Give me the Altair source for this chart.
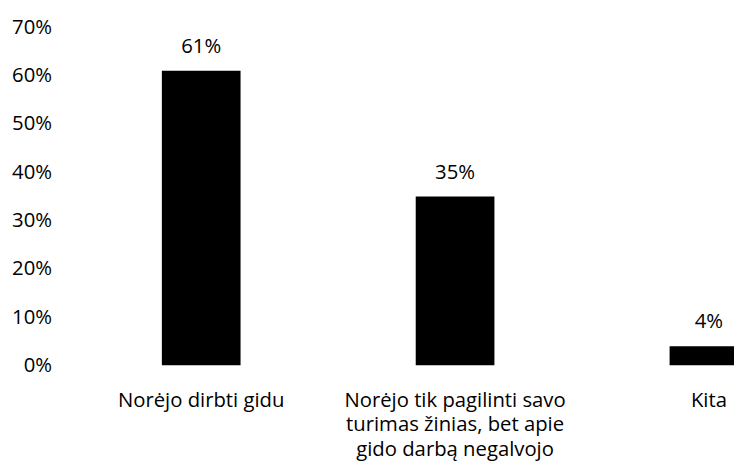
import altair as alt
import pandas as pd

categories = [
    "Norėjo dirbti gidu",
    "Norėjo tik pagilinti savo|turimas žinias, bet apie|gido darbą negalvojo",
    "Kita",
]
values = [0.61, 0.35, 0.04]
y_ticks = [0.0, 0.1, 0.2, 0.3, 0.4, 0.5, 0.6, 0.7]

df = pd.DataFrame({"cat": categories, "val": values})

FONT = "Open Sans"
FS = 20.5

x_enc = alt.X(
    "cat:N",
    sort=None,
    scale=alt.Scale(domain=categories, range=[0, 770], paddingInner=0.69, paddingOuter=0.345),
    axis=alt.Axis(
        title=None,
        labelAngle=0,
        labelExpr="split(datum.label, '|')",
        labelLimit=0,
        labelOverlap=False,
        labelPadding=25,
        labelLineHeight=25,
        labelFont=FONT,
        labelFontSize=FS,
        labelColor="#000000",
        domain=False,
        ticks=False,
        tickSize=0,
    ),
)
y_enc = alt.Y(
    "val:Q",
    scale=alt.Scale(domain=[0, 0.7], nice=False, zero=True),
    axis=alt.Axis(
        title=None,
        values=y_ticks,
        format=".0%",
        grid=False,
        domain=False,
        ticks=False,
        tickSize=0,
        labelPadding=23,
        labelFont=FONT,
        labelFontSize=FS,
        labelColor="#000000",
    ),
)

bars = alt.Chart(df).mark_bar(color="#000000", clip=True).encode(x=x_enc, y=y_enc)
labels = alt.Chart(df).mark_text(
    font=FONT, fontSize=FS, color="#000000", baseline="alphabetic", dy=-18
).encode(x=x_enc, y=y_enc, text=alt.Text("val:Q", format=".0%"))

chart = (
    alt.layer(bars, labels)
    .properties(
        width=667,
        height=342,
        autosize=alt.AutoSizeParams(type="none"),
        padding={"left": 67, "top": 17, "right": 0, "bottom": 97},
    )
    .configure_view(stroke=None)
)

chart.save("out.html", embed_options={"renderer": "svg", "actions": False})
